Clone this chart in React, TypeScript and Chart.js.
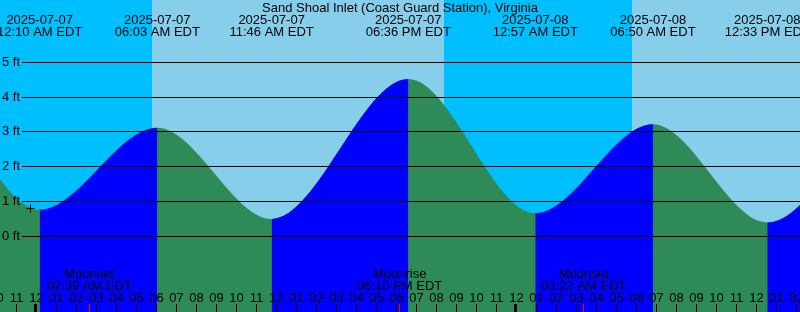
import React, { useEffect, useRef } from 'react';
import { Chart, registerables } from 'chart.js';

Chart.register(...registerables);

// ---- data (hours are measured from 2025-07-07 00:00 EDT) ----
const title = 'Sand Shoal Inlet (Coast Guard Station), Virginia';

const extremeHours = [0.167, 6.05, 11.767, 18.6, 24.95, 30.833, 36.55];
const extremeFeet = [0.76, 3.12, 0.5, 4.52, 0.66, 3.22, 0.4];
const extremeDates = ['2025-07-07', '2025-07-07', '2025-07-07', '2025-07-07', '2025-07-08', '2025-07-08', '2025-07-08'];
const extremeTimes = ['12:10 AM EDT', '06:03 AM EDT', '11:46 AM EDT', '06:36 PM EDT', '12:57 AM EDT', '06:50 AM EDT', '12:33 PM EDT'];

// extremes just outside the visible window (needed so the curve enters/leaves the frame)
const leadHours = [-12.3, -6.03];
const leadFeet = [0.3, 4.4];
const tailHours = [43.3, 49.5];
const tailFeet = [3.8, 0.7];

const moonHours = [2.65, 18.167, 27.367];
const moonEvents = ['Moonset', 'Moonrise', 'Moonset'];
const moonTimes = ['02:39 AM EDT', '06:10 PM EDT', '03:22 AM EDT'];

const nightStarts = [-12, 20.385];
const nightEnds = [5.785, 29.785];

const footTicks = [0, 1, 2, 3, 4, 5];
const footLabels = ['0 ft', '1 ft', '2 ft', '3 ft', '4 ft', '5 ft'];

const clockLabels = ['12', '01', '02', '03', '04', '05', '06', '07', '08', '09', '10', '11'];
const firstHour = -2;
const lastHour = 38;

const markerHour = -0.29;
const markerFeet = 0.8;

// ---- view window ----
const X_MIN = -1.815;
const X_MAX = 38.185;
const Y_MAX = 6.7902;
const Y_MIN = -2.1753;

// ---- colours ----
const DAY = '#87CEEB';
const NIGHT = '#00BFFF';
const RISE = '#0000FF';
const FALL = '#2E8B57';
const FONT = '13px "Liberation Sans", Arial, sans-serif';

const tideHours = [...leadHours, ...extremeHours, ...tailHours];
const tideFeet = [...leadFeet, ...extremeFeet, ...tailFeet];
const makeTidePoints = () => tideHours.map((h, i) => ({ x: h, y: tideFeet[i] }));

const tidePlugin = {
  id: 'tideDecor',
  beforeDraw(chart: any) {
    const { ctx, chartArea: a, scales } = chart;
    const xs = scales.x;
    ctx.save();
    ctx.fillStyle = DAY;
    ctx.fillRect(a.left, a.top, a.right - a.left, a.bottom - a.top);
    ctx.fillStyle = NIGHT;
    nightStarts.forEach((s, i) => {
      const x0 = Math.max(a.left, Math.round(xs.getPixelForValue(s)));
      const x1 = Math.min(a.right, Math.round(xs.getPixelForValue(nightEnds[i])));
      if (x1 > x0) ctx.fillRect(x0, a.top, x1 - x0, a.bottom - a.top);
    });
    ctx.restore();
  },
  afterDatasetsDraw(chart: any) {
    const { ctx, chartArea: a, scales } = chart;
    const xs = scales.x;
    const ys = scales.y;
    ctx.save();
    ctx.fillStyle = '#000';
    ctx.font = FONT;

    // horizontal foot lines + labels
    ctx.textAlign = 'left';
    ctx.textBaseline = 'alphabetic';
    footTicks.forEach((f, i) => {
      const y = Math.floor(ys.getPixelForValue(f));
      ctx.fillRect(22, y, a.right - 22, 1);
      ctx.fillText(footLabels[i], 2, y + 4);
    });

    // title
    ctx.textAlign = 'center';
    ctx.fillText(title, (a.left + a.right) / 2, 12);

    // extreme labels
    extremeHours.forEach((h, i) => {
      const x = xs.getPixelForValue(h);
      ctx.fillText(extremeDates[i], x, 24);
      ctx.fillText(extremeTimes[i], x, 36);
    });

    // moon labels
    moonHours.forEach((h, i) => {
      const x = xs.getPixelForValue(h);
      ctx.fillText(moonEvents[i], x, 278);
      ctx.fillText(moonTimes[i], x, 290);
    });

    // hour ticks + labels
    for (let h = firstHour; h <= lastHour; h++) {
      const px = Math.floor(xs.getPixelForValue(h));
      if (h % 24 === 0) ctx.fillRect(px - 2, 304, 3, 8);
      else ctx.fillRect(px, 304, 1, 8);
      ctx.fillText(clockLabels[((h % 12) + 12) % 12], px + 0.5, 302);
    }

    // moon ticks
    ctx.fillStyle = '#FF0000';
    moonHours.forEach((h) => {
      const px = Math.floor(xs.getPixelForValue(h));
      ctx.fillRect(px, 304, 1, 8);
    });
    ctx.restore();
  },
};

const tideStyle = {
  fill: 'start',
  cubicInterpolationMode: 'monotone',
  pointRadius: 0,
  pointHoverRadius: 0,
  borderWidth: 0,
  borderColor: 'rgba(0,0,0,0)',
};

export default function App() {
  const ref = useRef<HTMLCanvasElement>(null);
  useEffect(() => {
    document.body.style.margin = '0';
    const chart = new Chart(ref.current as HTMLCanvasElement, {
      type: 'line',
      data: {
        // Chart.js paints dataset 0 last (on top)
        datasets: [
          {
            data: [{ x: markerHour, y: markerFeet }],
            showLine: false,
            fill: false,
            pointStyle: 'cross',
            pointRadius: 4,
            pointHoverRadius: 4,
            borderColor: '#000',
            backgroundColor: '#000',
            borderWidth: 1,
          } as any,
          // rising water painted over the falling-water base
          {
            ...tideStyle,
            data: makeTidePoints(),
            backgroundColor: RISE,
            segment: {
              backgroundColor: (c: any) => (c.p1.parsed.y >= c.p0.parsed.y ? RISE : 'rgba(0,0,0,0)'),
            },
          } as any,
          { ...tideStyle, data: makeTidePoints(), backgroundColor: FALL } as any,
        ],
      },
      options: {
        responsive: false,
        animation: false,
        events: [],
        layout: { padding: 0, autoPadding: false },
        elements: { line: { capBezierPoints: false } as any },
        plugins: {
          legend: { display: false },
          tooltip: { enabled: false },
          title: { display: false },
        },
        scales: {
          x: {
            type: 'linear',
            display: false,
            bounds: 'data',
            afterDataLimits: (s: any) => {
              s.min = X_MIN;
              s.max = X_MAX;
            },
          },
          y: { type: 'linear', display: false, min: Y_MIN, max: Y_MAX },
        },
      } as any,
      plugins: [tidePlugin],
    });
    return () => chart.destroy();
  }, []);
  return (
    <div style={{ width: 800, height: 312 }}>
      <canvas ref={ref} width={800} height={312} style={{ display: 'block' }} />
    </div>
  );
}
